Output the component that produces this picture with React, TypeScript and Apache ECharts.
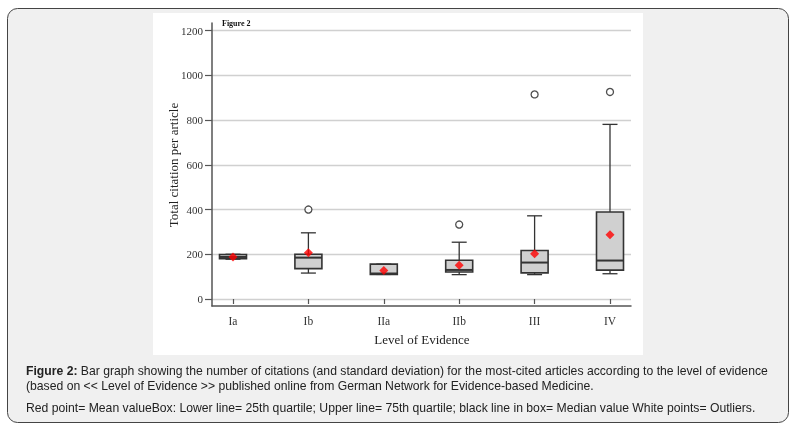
import React, { useEffect, useRef } from "react";
import * as echarts from "echarts";

const categories = ["Ia", "Ib", "IIa", "IIb", "III", "IV"];
// [min whisker, Q1, median, Q3, max whisker]
const boxStats = [
  [178, 180, 188, 199, 200],
  [116, 136, 185, 200, 296],
  [110, 110, 114, 156, 156],
  [109, 121, 130, 173, 254],
  [109, 117, 163, 217, 372],
  [113, 129, 172, 389, 781],
];
const means = [188, 207, 127, 151, 202, 287];
const outliers: [number, number][] = [
  [1, 400],
  [3, 333],
  [4, 915],
  [5, 926],
];
const yTicks = [0, 200, 400, 600, 800, 1000, 1200];
const yTitle = "Total citation per article";
const xTitle = "Level of Evidence";
const figTag = "Figure 2";
const captionBold = "Figure 2:";
const captionLine1 =
  " Bar graph showing the number of citations (and standard deviation) for the most-cited articles according to the level of evidence";
const captionLine2 =
  "(based on << Level of Evidence >> published online from German Network for Evidence-based Medicine.";
const captionLine3 =
  "Red point= Mean valueBox: Lower line= 25th quartile; Upper line= 75th quartile; black line in box= Median value White points= Outliers.";

export default function App() {
  const ref = useRef<HTMLDivElement>(null);
  useEffect(() => {
    if (!ref.current) return;
    const chart = echarts.init(ref.current, null, { renderer: "svg" });
    const serif = "'Liberation Serif', 'Times New Roman', serif";
    const sans = "'Liberation Sans', Arial, sans-serif";
    const capSize = 12.2;
    const plotL = 212;
    const plotW = 419;
    const yTop = 30.7;
    const yH = 268.3;
    const dataL = 233;
    const dataW = 377;

    const option: any = {
      animation: false,
      graphic: [
        {
          type: "rect",
          z: -10,
          shape: { x: 7.5, y: 8.5, width: 781, height: 414, r: 10 },
          style: { fill: "#f0f0f0", stroke: "#444", lineWidth: 1 },
        },
        {
          type: "rect",
          z: -9,
          shape: { x: 153, y: 13, width: 490, height: 342 },
          style: { fill: "#ffffff" },
        },
        {
          type: "text",
          x: 222,
          y: 23,
          style: {
            text: figTag,
            font: `bold 8px ${serif}`,
            fill: "#111",
            textAlign: "left",
            textVerticalAlign: "middle",
          },
        },
        {
          type: "text",
          x: 173,
          y: 165,
          rotation: Math.PI / 2,
          style: {
            text: yTitle,
            font: `13px ${serif}`,
            fill: "#222",
            textAlign: "center",
            textVerticalAlign: "middle",
          },
        },
        {
          type: "text",
          x: 422,
          y: 339,
          style: {
            text: xTitle,
            font: `13px ${serif}`,
            fill: "#222",
            textAlign: "center",
            textVerticalAlign: "middle",
          },
        },
        {
          type: "text",
          x: 26,
          y: 371,
          style: {
            text: `{b|${captionBold}}${captionLine1}`,
            font: `${capSize}px ${sans}`,
            fill: "#222",
            textAlign: "left",
            textVerticalAlign: "middle",
            rich: {
              b: { fontWeight: "bold", fontSize: capSize, fontFamily: sans, fill: "#222" },
            },
          },
        },
        {
          type: "text",
          x: 26,
          y: 386,
          style: {
            text: captionLine2,
            font: `${capSize}px ${sans}`,
            fill: "#222",
            textAlign: "left",
            textVerticalAlign: "middle",
          },
        },
        {
          type: "text",
          x: 26,
          y: 408,
          style: {
            text: captionLine3,
            font: `${capSize}px ${sans}`,
            fill: "#222",
            textAlign: "left",
            textVerticalAlign: "middle",
          },
        },
      ],
      grid: [
        { left: plotL, top: yTop, width: plotW, height: yH },
        { left: plotL, top: 23, width: plotW, height: 283 },
        { left: dataL, top: yTop, width: dataW, height: yH },
      ],
      xAxis: [
        { gridIndex: 0, type: "value", show: false, min: 0, max: 1 },
        {
          gridIndex: 1,
          type: "value",
          min: 0,
          max: 1,
          axisLine: { show: true, onZero: false, lineStyle: { color: "#555", width: 1.5 } },
          axisTick: { show: false },
          axisLabel: { show: false },
          splitLine: { show: false },
        },
        {
          gridIndex: 2,
          type: "category",
          data: categories,
          boundaryGap: false,
          offset: 7,
          axisLine: { show: false },
          axisTick: { show: true, length: 5, interval: 0, lineStyle: { color: "#555", width: 1.2 } },
          axisLabel: {
            interval: 0,
            margin: 9,
            fontFamily: serif,
            fontSize: 11.5,
            color: "#333",
          },
          splitLine: { show: false },
        },
      ],
      yAxis: [
        {
          gridIndex: 0,
          type: "value",
          min: yTicks[0],
          max: yTicks[yTicks.length - 1],
          interval: yTicks[1] - yTicks[0],
          axisLine: { show: false },
          axisTick: { show: true, length: 7, lineStyle: { color: "#555", width: 1.2 } },
          axisLabel: {
            margin: 9,
            fontFamily: serif,
            fontSize: 11,
            color: "#333",
            formatter: (v: number) => String(v),
          },
          splitLine: { show: true, lineStyle: { color: "#d0d0d0", width: 1.3 } },
        },
        {
          gridIndex: 1,
          type: "value",
          min: 0,
          max: 1,
          axisLine: { show: true, onZero: false, lineStyle: { color: "#555", width: 1.5 } },
          axisTick: { show: false },
          axisLabel: { show: false },
          splitLine: { show: false },
        },
        {
          gridIndex: 2,
          type: "value",
          min: yTicks[0],
          max: yTicks[yTicks.length - 1],
          show: false,
        },
      ],
      series: [
        {
          type: "custom",
          xAxisIndex: 2,
          yAxisIndex: 2,
          data: boxStats.map((s, i) => [i, ...s]),
          renderItem: (params: any, api: any) => {
            const i = api.value(0);
            const [x, yMin] = api.coord([i, api.value(1)]);
            const yQ1 = api.coord([i, api.value(2)])[1];
            const yMed = api.coord([i, api.value(3)])[1];
            const yQ3 = api.coord([i, api.value(4)])[1];
            const yMax = api.coord([i, api.value(5)])[1];
            const hw = 13.5;
            const cw = 7.5;
            const stroke = "#333";
            return {
              type: "group",
              children: [
                { type: "line", shape: { x1: x, y1: yQ3, x2: x, y2: yMax }, style: { stroke, lineWidth: 1.3 } },
                { type: "line", shape: { x1: x, y1: yQ1, x2: x, y2: yMin }, style: { stroke, lineWidth: 1.3 } },
                { type: "line", shape: { x1: x - cw, y1: yMax, x2: x + cw, y2: yMax }, style: { stroke, lineWidth: 1.3 } },
                { type: "line", shape: { x1: x - cw, y1: yMin, x2: x + cw, y2: yMin }, style: { stroke, lineWidth: 1.3 } },
                {
                  type: "rect",
                  shape: { x: x - hw, y: yQ3, width: hw * 2, height: yQ1 - yQ3 },
                  style: { fill: "#d0d0d0", stroke, lineWidth: 1.6 },
                },
                { type: "line", shape: { x1: x - hw, y1: yMed, x2: x + hw, y2: yMed }, style: { stroke, lineWidth: 2 } },
              ],
            };
          },
          z: 3,
        },
        {
          type: "scatter",
          xAxisIndex: 2,
          yAxisIndex: 2,
          data: outliers,
          symbol: "circle",
          symbolSize: 7,
          itemStyle: { color: "#fff", borderColor: "#222", borderWidth: 1.3 },
          z: 4,
        },
        {
          type: "scatter",
          xAxisIndex: 2,
          yAxisIndex: 2,
          data: means.map((m, i) => [i, m]),
          symbol: "diamond",
          symbolSize: 9,
          itemStyle: { color: "#ff0000" },
          z: 5,
        },
      ],
    };
    chart.setOption(option);
    return () => chart.dispose();
  }, []);
  return (
    <div
      ref={ref}
      style={{ position: "fixed", left: 0, top: 0, width: 795, height: 428 }}
    />
  );
}
